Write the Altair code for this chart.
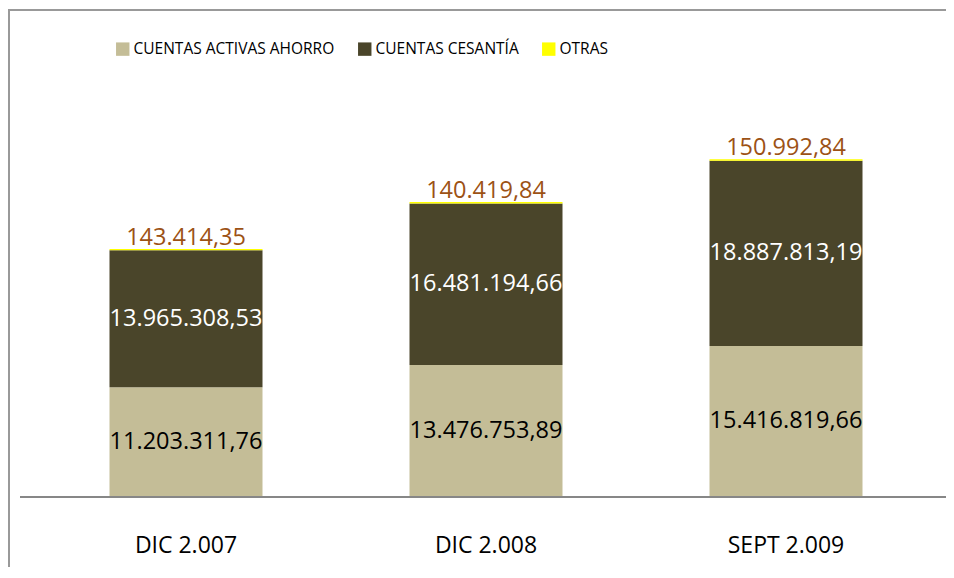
import altair as alt
import pandas as pd

categories = ["DIC 2.007", "DIC 2.008", "SEPT 2.009"]
series = ["CUENTAS ACTIVAS AHORRO", "CUENTAS CESANTÍA", "OTRAS"]
ahorro = [11203311.76, 13476753.89, 15416819.66]
cesantia = [13965308.53, 16481194.66, 18887813.19]
otras = [143414.35, 140419.84, 150992.84]
colors = ["#C4BD97", "#4A452A", "#FFFF00"]
label_colors = ["#000000", "#FFFFFF", "#9C5215"]


def fmt(v):
    s = f"{v:,.2f}"
    return s.replace(",", "X").replace(".", ",").replace("X", ".")


rows = []
for i, c in enumerate(categories):
    vals = [ahorro[i], cesantia[i], otras[i]]
    start = 0.0
    for k, (s, v) in enumerate(zip(series, vals)):
        rows.append({
            "cat": c, "serie": s, "value": v, "order": k,
            "mid": start + v / 2, "top": start + v,
            "label": fmt(v), "lcolor": label_colors[k],
        })
        start += v
df = pd.DataFrame(rows)

FONT = "Open Sans"

xenc = alt.X("cat:N", sort=categories, title=None,
             scale=alt.Scale(paddingInner=0.49, paddingOuter=0.245),
             axis=alt.Axis(labelAngle=0, domain=False, ticks=False,
                           labelPadding=48, labelFontSize=23, labelFont=FONT,
                           labelColor="#000000", labelBaseline="middle"))
yscale = alt.Scale(domain=[0, 40000000])

base = alt.Chart(df)

bars = base.mark_bar().encode(
    x=xenc,
    y=alt.Y("value:Q", stack="zero", scale=yscale, axis=None),
    color=alt.Color("serie:N", sort=series,
                    scale=alt.Scale(domain=series, range=colors),
                    legend=alt.Legend(title=None, orient="none", direction="horizontal",
                                      legendX=79, legendY=-64, symbolType="square",
                                      symbolSize=180, symbolStrokeWidth=0,
                                      labelFont=FONT, labelFontSize=15.5, labelLimit=0,
                                      labelColor="#000000", columnPadding=22,
                                      labelOffset=3)),
    order=alt.Order("order:Q"),
)

inner = base.transform_filter("datum.order < 2").mark_text(
    font=FONT, fontSize=23.5, baseline="middle", align="center"
).encode(
    x=alt.X("cat:N", sort=categories),
    y=alt.Y("mid:Q", scale=yscale),
    text="label:N",
    color=alt.Color("lcolor:N", scale=None),
)

top = base.transform_filter("datum.order == 2").mark_text(
    font=FONT, fontSize=23.5, baseline="bottom", align="center", dy=1, color="#9C5215"
).encode(
    x=alt.X("cat:N", sort=categories),
    y=alt.Y("top:Q", scale=yscale),
    text="label:N",
)

baseline = alt.Chart(pd.DataFrame({"y": [0]})).mark_rule(
    color="#878787", strokeWidth=2
).encode(x=alt.value(-16), x2=alt.value(910), y=alt.Y("y:Q", scale=yscale))

frame_one = pd.DataFrame({"a": [0]})
frame_top = alt.Chart(frame_one).mark_rule(color="#999999", strokeWidth=2).encode(
    x=alt.value(-28), x2=alt.value(910), y=alt.value(-95))
frame_left = alt.Chart(frame_one).mark_rule(color="#999999", strokeWidth=2).encode(
    x=alt.value(-27), y=alt.value(-96), y2=alt.value(480))

chart = alt.layer(frame_top, frame_left, bars, baseline, inner, top).properties(
    width=900, height=392,
    padding={"left": 28, "top": 97, "right": 10, "bottom": 70},
    autosize=alt.AutoSizeParams(type="none"),
    background="#FFFFFF",
).configure_view(stroke=None, strokeWidth=0)

chart.save("out.html", embed_options={"renderer": "svg", "actions": False})
